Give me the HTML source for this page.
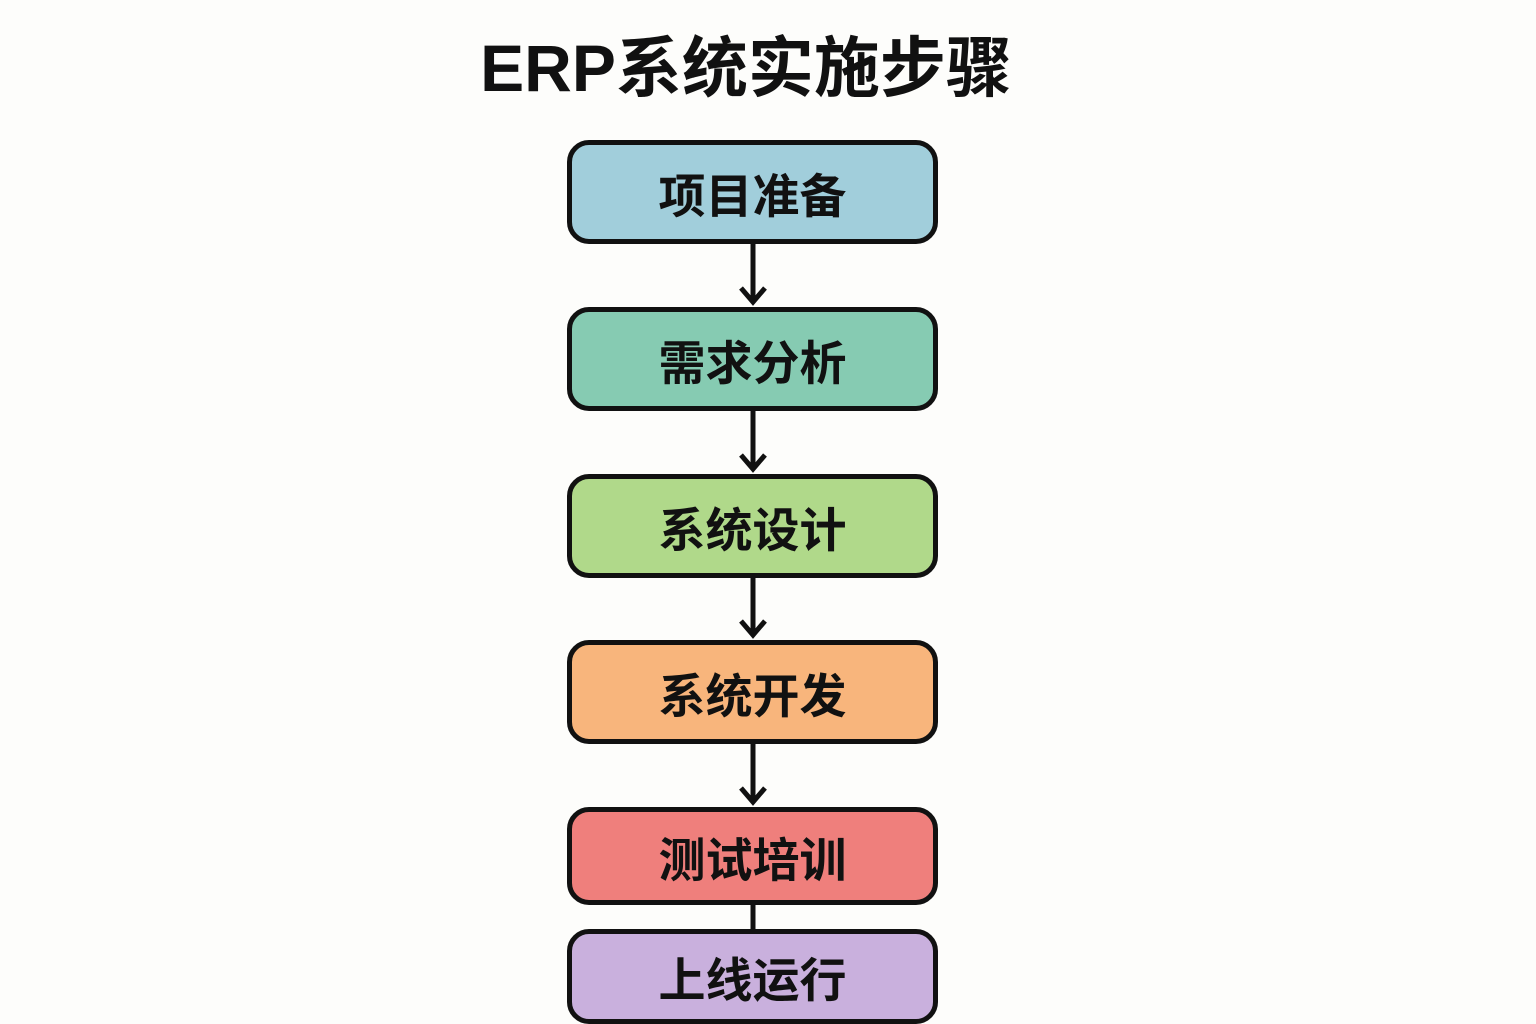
<!DOCTYPE html>
<html><head><meta charset="utf-8"><style>
body{margin:0;width:1536px;height:1024px;background:#fdfdfb;position:relative;overflow:hidden;font-family:"Liberation Sans","Noto Sans CJK SC",sans-serif}
.t{position:absolute;left:0;width:1492px;top:28px;text-align:center;font-size:66px;font-weight:bold;color:#111;line-height:80px}
.b{position:absolute;left:567px;border:5px solid #111;border-radius:22px;box-sizing:border-box;width:371px;display:flex;align-items:center;justify-content:center;font-size:47px;font-weight:bold;color:#111}
</style></head><body>
<div class="t">ERP系统实施步骤</div>
<div class="b" style="top:140px;height:104px;background:#a1cedb">项目准备</div>
<div class="b" style="top:307px;height:104px;background:#86cbb2">需求分析</div>
<div class="b" style="top:474px;height:104px;background:#b0d98a">系统设计</div>
<div class="b" style="top:640px;height:104px;background:#f8b57c">系统开发</div>
<div class="b" style="top:807px;height:98px;background:#ef7f7c">测试培训</div>
<div class="b" style="top:929px;height:95px;background:#c9b0dd">上线运行</div>
<svg width="1536" height="1024" style="position:absolute;left:0;top:0" fill="none" stroke="#111" stroke-width="5">
<g stroke-linejoin="miter">
<path d="M753 244V302M741 288l12 14 12-14"/>
<path d="M753 411V469M741 455l12 14 12-14"/>
<path d="M753 578V635M741 621l12 14 12-14"/>
<path d="M753 744V802M741 788l12 14 12-14"/>
<path d="M753 905V929"/>
</g></svg>
</body></html>
